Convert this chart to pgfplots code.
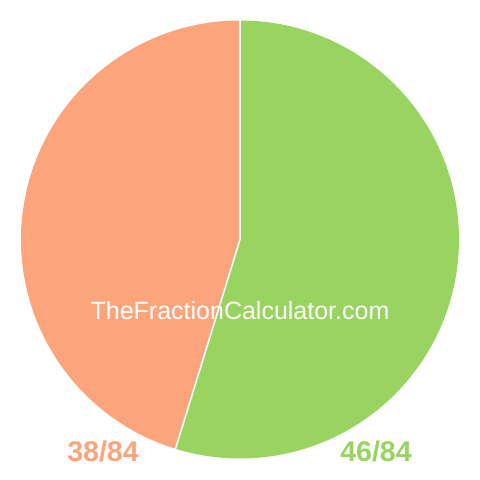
\documentclass[border=0pt]{standalone}
\usepackage{pgfplots}
\usepackage{pgfplotstable}
\usepackage{fontspec}
\setmainfont{Liberation Sans}
\pgfplotsset{compat=1.18}

\definecolor{sliceorange}{RGB}{252,165,124}
\definecolor{slicegreen}{RGB}{153,212,96}

\pgfplotstableread{
label value
46/84 46
38/84 38
}\slices

\pgfplotstablegetelem{0}{value}\of\slices \let\vgreen\pgfplotsretval
\pgfplotstablegetelem{1}{value}\of\slices \let\vorange\pgfplotsretval
\pgfmathsetmacro\total{\vgreen+\vorange}
% angles, clockwise from the top
\pgfmathsetmacro\astart{90}
\pgfmathsetmacro\amid{90-\vgreen/\total*360}
\pgfmathsetmacro\aend{90-360}

\begin{document}
\begin{tikzpicture}
\path[use as bounding box] (0,0) rectangle (480pt,480pt);
\begin{axis}[
    at={(0,0)}, anchor=origin,
    x=1pt, y=1pt,
    xmin=0, xmax=480,
    ymin=0, ymax=480,
    hide axis,
    clip=false,
    ]
    % green slice
    \fill[slicegreen] (axis cs:240,240.5) -- ([shift={(\astart:219pt)}]axis cs:240,240.5)
        arc[start angle=\astart, end angle=\amid, radius=219pt] -- cycle;
    % orange slice
    \fill[sliceorange] (axis cs:240,240.5) -- ([shift={(\amid:219pt)}]axis cs:240,240.5)
        arc[start angle=\amid, end angle=\aend, radius=219pt] -- cycle;
    % white separators
    \draw[white, line width=1.6pt] ([shift={(\astart:220pt)}]axis cs:240,240.5) -- (axis cs:240,240.5)
        -- ([shift={(\amid:220pt)}]axis cs:240,240.5);
    % watermark
    \node[white, anchor=base, font=\fontsize{25}{27}\selectfont] at (axis cs:240,160) {TheFractionCalculator.com};
    % labels
    \node[sliceorange, anchor=base, font=\fontsize{28.5}{30}\selectfont\bfseries] at (axis cs:103,19) {38/84};
    \node[slicegreen, anchor=base, font=\fontsize{28.5}{30}\selectfont\bfseries] at (axis cs:376,19) {46/84};
\end{axis}
\end{tikzpicture}
\end{document}
